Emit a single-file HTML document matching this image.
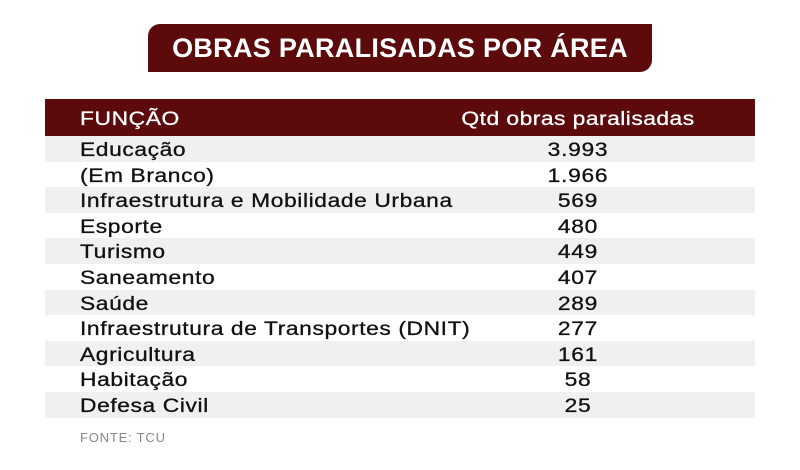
<!DOCTYPE html>
<html><head><meta charset="utf-8"><style>
body{margin:0;width:800px;height:470px;background:#fff;position:relative;overflow:hidden;font-family:"Liberation Sans",sans-serif;}
.banner{position:absolute;left:148px;top:24px;width:504px;height:48px;background:#5c0a0b;border-radius:12px 0 12px 0;color:#fff;font-weight:bold;font-size:27px;line-height:48px;text-align:center;letter-spacing:0.3px;}
.hdr{position:absolute;left:45px;top:99px;width:710px;height:37px;background:#5c0a0b;color:#fff;}
.row{position:absolute;left:45px;width:710px;height:25.6px;}
.g{background:#f0f0f0;}
.t{position:absolute;left:35px;top:2px;font-size:19px;letter-spacing:0.5px;line-height:25.6px;color:#111;white-space:nowrap;transform:scaleX(1.2);transform-origin:left center;-webkit-text-stroke:0.3px #111;}
.n{position:absolute;left:383px;top:2px;width:300px;text-align:center;font-size:19px;letter-spacing:0.6px;line-height:25.6px;color:#111;white-space:nowrap;transform:scaleX(1.2);transform-origin:center center;-webkit-text-stroke:0.3px #111;}
.hdr .t,.hdr .n{color:#fff;line-height:40px;-webkit-text-stroke:0.3px #fff;top:1px;}
.src{position:absolute;left:80px;top:430px;font-size:13px;color:#888;letter-spacing:0.8px;}
</style></head><body>
<div class="banner">OBRAS PARALISADAS POR ÁREA</div>
<div class="hdr"><div class="t">FUNÇÃO</div><div class="n" style="letter-spacing:0.4px">Qtd obras paralisadas</div></div>
<div class="row g" style="top:136px"><div class="t">Educação</div><div class="n">3.993</div></div>
<div class="row" style="top:161.6px"><div class="t">(Em Branco)</div><div class="n">1.966</div></div>
<div class="row g" style="top:187.2px"><div class="t">Infraestrutura e Mobilidade Urbana</div><div class="n">569</div></div>
<div class="row" style="top:212.8px"><div class="t">Esporte</div><div class="n">480</div></div>
<div class="row g" style="top:238.4px"><div class="t">Turismo</div><div class="n">449</div></div>
<div class="row" style="top:264px"><div class="t">Saneamento</div><div class="n">407</div></div>
<div class="row g" style="top:289.6px"><div class="t">Saúde</div><div class="n">289</div></div>
<div class="row" style="top:315.2px"><div class="t">Infraestrutura de Transportes (DNIT)</div><div class="n">277</div></div>
<div class="row g" style="top:340.8px"><div class="t">Agricultura</div><div class="n">161</div></div>
<div class="row" style="top:366.4px"><div class="t">Habitação</div><div class="n">58</div></div>
<div class="row g" style="top:392px"><div class="t">Defesa Civil</div><div class="n">25</div></div>
<div class="src">FONTE: TCU</div>
</body></html>
